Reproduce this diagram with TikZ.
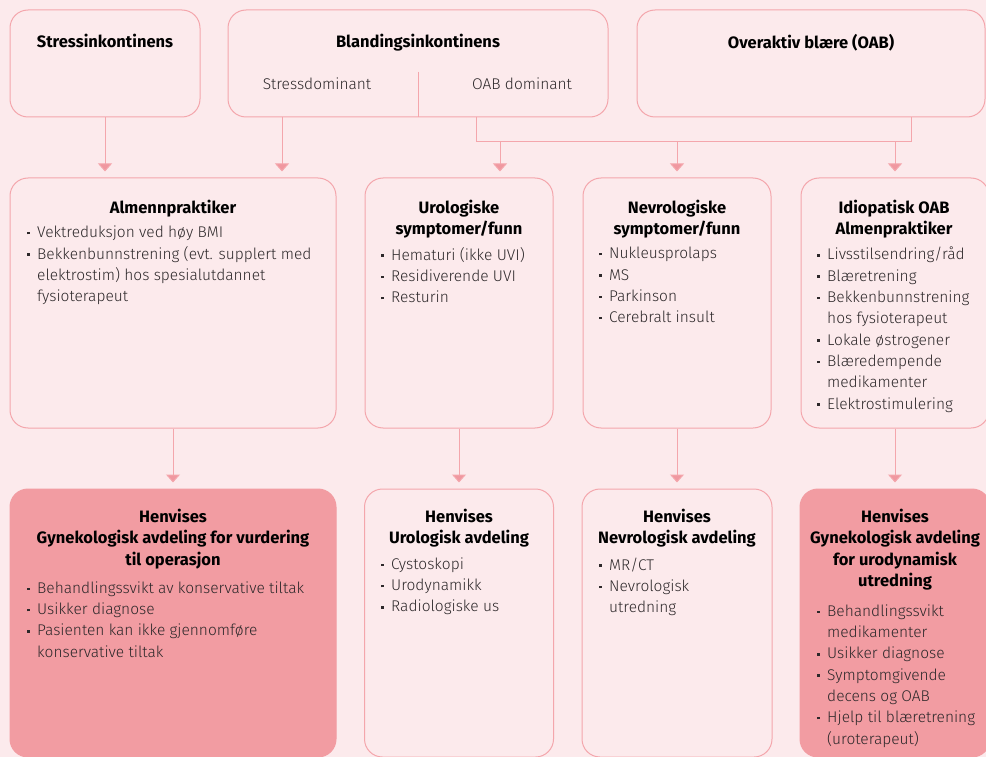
\documentclass[tikz,border=0pt]{standalone}
\usepackage{fontspec}
\setmainfont{Fira Sans}[UprightFont={* Light}, BoldFont={* Bold}]
\usetikzlibrary{positioning,arrows.meta}
\definecolor{bakgrunn}{RGB}{252,234,236}
\definecolor{ramme}{RGB}{244,166,172}
\definecolor{henvis}{RGB}{242,156,162}
\definecolor{pilfarge}{RGB}{240,152,160}
\definecolor{brodtekst}{RGB}{45,40,42}
\newcommand{\pkt}{\makebox[10pt][l]{\raisebox{0.22em}{\rule{2.4pt}{2.4pt}}}}
\newcommand{\inn}{\hspace*{10pt}}

\begin{document}
\begin{tikzpicture}[x=1pt, y=-1pt,
  boks/.style={draw=ramme, fill=bakgrunn, line width=1pt,
    rounded corners=18pt, inner sep=0pt},
  henv/.style={boks, fill=henvis, draw=henvis},
  tittel/.style={font=\fontsize{16.5}{21.3}\selectfont\bfseries,
    align=center, anchor=north, inner sep=0pt, text=black},
  punkter/.style={font=\fontsize{15.5}{21.3}\selectfont,
    align=left, anchor=north west, inner sep=0pt, text=brodtekst},
  linje/.style={draw=ramme, line width=1pt},
  arr/.style={linje, -{Triangle[width=14pt,length=8pt,fill=pilfarge]},
    shorten >=6pt},
]

\fill[bakgrunn] (0,0) rectangle (986,757);
\useasboundingbox (0,0) rectangle (986,757);

% --- row 0: diagnoser
\node[boks, minimum width=190pt, minimum height=107pt] at (105,63.5) (stress) {};
\node[boks, minimum width=380pt, minimum height=107pt] at (418,63.5) (bland)  {};
\node[boks, minimum width=348pt, minimum height=107pt] at (811,63.5) (oab)    {};

\node[tittel] at (105,34) (stress-t) {Stressinkontinens};
\node[tittel] at (418,34) (bland-t)  {Blandingsinkontinens};
\node[tittel] at (811,34) (oab-t)    {Overaktiv blære (OAB)};
\node[punkter, anchor=north] at (317,77.5) (stressdom-t) {Stressdominant};
\node[punkter, anchor=north] at (522,77.5) (oabdom-t)    {OAB dominant};

% --- row 1: utredning / tiltak
\node[boks, minimum width=326pt, minimum height=250pt] at (173,303) (almenn) {};
\node[boks, minimum width=188pt, minimum height=250pt] at (459,303) (uro)    {};
\node[boks, minimum width=188pt, minimum height=250pt] at (677,303) (nevro)  {};
\node[boks, minimum width=188pt, minimum height=250pt] at (895,303) (idio)   {};

\node[tittel] at (173,200) (almenn-t) {Almennpraktiker};
\node[tittel] at (459,200) (uro-t)    {Urologiske\\symptomer/funn};
\node[tittel] at (677,200) (nevro-t)  {Nevrologiske\\symptomer/funn};
\node[tittel] at (894,200) (idio-t)   {Idiopatisk OAB\\Almenpraktiker};

\node[punkter] at (27,226) (almenn-l) {\pkt Vektreduksjon ved høy BMI\\
  \pkt Bekkenbunnstrening (evt. supplert med\\
  \inn elektrostim) hos spesialutdannet\\
  \inn fysioterapeut};
\node[punkter] at (381,247) (uro-l) {\pkt Hematuri (ikke UVI)\\
  \pkt Residiverende UVI\\
  \pkt Resturin};
\node[punkter] at (599,247) (nevro-l) {\pkt Nukleusprolaps\\
  \pkt MS\\
  \pkt Parkinson\\
  \pkt Cerebralt insult};
\node[punkter] at (817,247) (idio-l) {\pkt Livsstilsendring/råd\\
  \pkt Blæretrening\\
  \pkt Bekkenbunnstrening\\
  \inn hos fysioterapeut\\
  \pkt Lokale østrogener\\
  \pkt Blæredempende\\
  \inn medikamenter\\
  \pkt Elektrostimulering};

% --- row 2: henvisning
\node[henv, minimum width=326pt, minimum height=268pt] at (173,623) (gynop)     {};
\node[boks, minimum width=189pt, minimum height=268pt] at (459,623) (urohenv)   {};
\node[boks, minimum width=190pt, minimum height=268pt] at (677,623) (nevrohenv) {};
\node[henv, minimum width=190pt, minimum height=268pt] at (895,623) (gynuro)    {};

\node[tittel] at (173,509) (gynop-t) {Henvises\\Gynekologisk avdeling for vurdering\\til operasjon};
\node[tittel] at (459,509) (urohenv-t) {Henvises\\Urologisk avdeling};
\node[tittel] at (677,509) (nevrohenv-t) {Henvises\\Nevrologisk avdeling};
\node[tittel] at (895,509) (gynuro-t) {Henvises\\Gynekologisk avdeling\\for urodynamisk\\utredning};

\node[punkter] at (27,581.5) (gynop-l) {\pkt Behandlingssvikt av konservative tiltak\\
  \pkt Usikker diagnose\\
  \pkt Pasienten kan ikke gjennomføre\\
  \inn konservative tiltak};
\node[punkter] at (381,557.5) (urohenv-l) {\pkt Cystoskopi\\
  \pkt Urodynamikk\\
  \pkt Radiologiske us};
\node[punkter] at (599,557.5) (nevrohenv-l) {\pkt MR/CT\\
  \pkt Nevrologisk\\
  \inn utredning};
\node[punkter] at (817,604.5) (gynuro-l) {\pkt Behandlingssvikt\\
  \inn medikamenter\\
  \pkt Usikker diagnose\\
  \pkt Symptomgivende\\
  \inn decens og OAB\\
  \pkt Hjelp til blæretrening\\
  \inn (uroterapeut)};

% --- piler
\coordinate (skille)    at (418,72);
\coordinate (stressdom) at (282,117);
\coordinate (oabdom)    at (476,117);
\coordinate (oabut)     at (911,117);
\coordinate (buss)      at (476,142);
\coordinate (uroinn)    at (500,142);

\draw[linje] (skille) -- (skille |- bland.south);

\draw[arr] (stress.south) -- (stress.south |- almenn.north);
\draw[arr] (stressdom)    -- (stressdom |- almenn.north);

\draw[linje] (oabdom) -- (buss) -| (oabut);
\draw[arr] (uroinn) -- (uroinn |- uro.north);
\draw[arr] (nevro.north |- buss) -- (nevro.north);
\draw[arr] (idio.north |- buss)  -- (idio.north);

\draw[arr] (almenn.south) -- (gynop.north);
\draw[arr] (uro.south)    -- (urohenv.north);
\draw[arr] (nevro.south)  -- (nevrohenv.north);
\draw[arr] (idio.south)   -- (gynuro.north);

\end{tikzpicture}
\end{document}
